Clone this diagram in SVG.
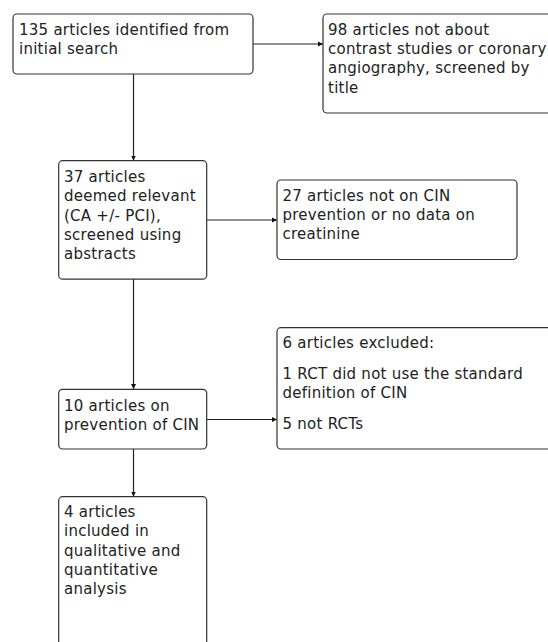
<svg xmlns="http://www.w3.org/2000/svg" width="548" height="642" viewBox="0 0 548 642">
<style>
.box{fill:#fff;stroke:#333;stroke-width:1.2}
.t{font-family:"DejaVu Sans","Liberation Sans",sans-serif;font-size:15px;letter-spacing:0.25px;fill:#222}
.c{stroke:#222;stroke-width:1.2;fill:none;marker-end:url(#ah)}
</style>
<defs>
<marker id="ah" markerWidth="6" markerHeight="6" refX="5" refY="3" orient="auto" markerUnits="userSpaceOnUse">
<path d="M0,0.5 L5,3 L0,5.5 Z" fill="#111"/>
</marker>
</defs>
<rect width="548" height="642" fill="#fff"/>
<g id="connectors">
<line class="c" x1="253" y1="44" x2="323" y2="44"/>
<line class="c" x1="133.5" y1="74" x2="133.5" y2="160.5"/>
<line class="c" x1="207" y1="220" x2="277" y2="220"/>
<line class="c" x1="133.5" y1="279" x2="133.5" y2="389"/>
<line class="c" x1="207" y1="419.5" x2="277" y2="419.5"/>
<line class="c" x1="133.5" y1="449" x2="133.5" y2="496.5"/>
</g>
<g id="n1">
<rect class="box" x="13" y="14" width="240" height="60" rx="4"/>
<text class="t" x="19" y="34.5">135 articles identified from</text>
<text class="t" x="19" y="54">initial search</text>
</g>
<g id="n2">
<rect class="box" x="323" y="14" width="240" height="99" rx="4"/>
<text class="t" x="328" y="34.5">98 articles not about</text>
<text class="t" x="328" y="54">contrast studies or coronary</text>
<text class="t" x="328" y="73.3">angiography, screened by</text>
<text class="t" x="328" y="92.6">title</text>
</g>
<g id="n3">
<rect class="box" x="58.7" y="160.7" width="148" height="118.5" rx="4"/>
<text class="t" x="64" y="182">37 articles</text>
<text class="t" x="64" y="201.3">deemed relevant</text>
<text class="t" x="64" y="220.6">(CA +/- PCI),</text>
<text class="t" x="64" y="239.9">screened using</text>
<text class="t" x="64" y="259.2">abstracts</text>
</g>
<g id="n4">
<rect class="box" x="277" y="180" width="240" height="79.5" rx="4"/>
<text class="t" x="282.5" y="200.5">27 articles not on CIN</text>
<text class="t" x="282.5" y="219.8">prevention or no data on</text>
<text class="t" x="282.5" y="239.1">creatinine</text>
</g>
<g id="n5">
<rect class="box" x="58.7" y="389.3" width="148" height="59.7" rx="4"/>
<text class="t" x="64" y="410.5">10 articles on</text>
<text class="t" x="64" y="429.8">prevention of CIN</text>
</g>
<g id="n6">
<rect class="box" x="277" y="327.7" width="290" height="121.3" rx="4"/>
<text class="t" x="282.5" y="348">6 articles excluded:</text>
<text class="t" x="282.5" y="378.6">1 RCT did not use the standard</text>
<text class="t" x="282.5" y="397.9">definition of CIN</text>
<text class="t" x="282.5" y="428.6">5 not RCTs</text>
</g>
<g id="n7">
<rect class="box" x="58.7" y="496.7" width="148" height="170" rx="4"/>
<text class="t" x="64" y="517">4 articles</text>
<text class="t" x="64" y="536.3">included in</text>
<text class="t" x="64" y="555.6">qualitative and</text>
<text class="t" x="64" y="574.9">quantitative</text>
<text class="t" x="64" y="594.2">analysis</text>
</g>
</svg>
